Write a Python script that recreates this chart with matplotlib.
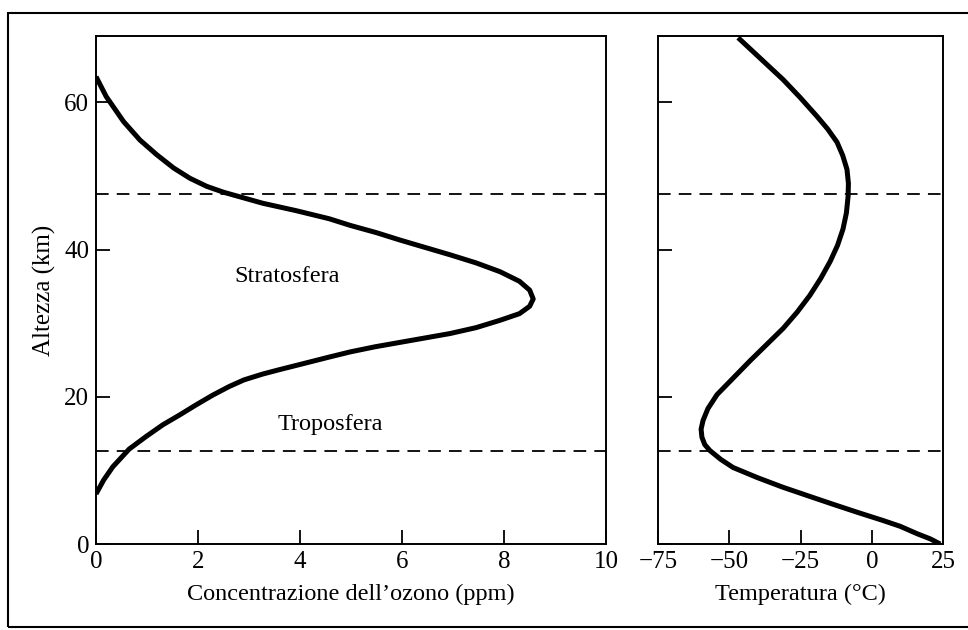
import matplotlib.pyplot as plt
from matplotlib.patches import Rectangle

ozone_ppm = [0.0, 0.2, 0.54, 0.86, 1.19, 1.52, 1.84, 2.17, 2.5, 3.27, 3.92,
             4.57, 4.98, 5.5, 5.96, 6.45, 6.94, 7.45, 7.92, 8.3, 8.5, 8.57, 8.5,
             8.3, 7.92, 7.45, 6.94, 6.45, 5.96, 5.47, 4.98, 4.57, 4.0, 3.6, 3.27,
             2.9, 2.61, 2.28, 1.96, 1.63, 1.31, 0.98, 0.65, 0.33, 0.15, 0.0]
ozone_alt = [63.5, 60.8, 57.4, 54.9, 52.9, 51.1, 49.7, 48.6, 47.8, 46.3, 45.3,
             44.2, 43.3, 42.3, 41.3, 40.3, 39.3, 38.2, 37.0, 35.7, 34.5, 33.3, 32.3,
             31.3, 30.4, 29.4, 28.6, 28.0, 27.4, 26.8, 26.1, 25.4, 24.4, 23.7, 23.1,
             22.3, 21.4, 20.2, 18.9, 17.5, 16.2, 14.6, 12.9, 10.5, 8.7, 6.8]

# temperature profile (deg C vs km)
temp_c = [-46.9, -31.1, -25.2, -19.2, -15.5, -12.2, -10.2, -8.7, -8.2, -8.3, -8.9,
          -10.1, -12.0, -14.6, -17.9, -21.7, -26.2, -31.1, -36.9, -42.7, -48.5,
          -54.3, -57.5, -59.2, -59.9, -59.6, -58.6, -56.8, -53.0, -48.7, -40.0,
          -31.1, -22.0, -13.6, -5.0, 3.9, 10.0, 15.9, 20.5, 24.0]
temp_alt = [68.8, 63.1, 60.7, 58.1, 56.4, 54.6, 52.8, 50.9, 49.0, 47.3, 45.0,
            42.8, 40.6, 38.4, 36.1, 33.8, 31.5, 29.3, 27.1, 24.9, 22.6,
            20.3, 18.4, 16.8, 15.6, 14.5, 13.5, 12.7, 11.5, 10.4, 9.0,
            7.7, 6.5, 5.4, 4.3, 3.2, 2.4, 1.4, 0.7, 0.0]

boundaries = [12.7, 47.5]

plt.rcParams['font.family'] = ['Liberation Serif', 'DejaVu Serif']
plt.rcParams['font.size'] = 17.5

fig = plt.figure(figsize=(9.68, 6.30), dpi=100)
fig.patches.append(Rectangle((0.008, 0.005), 1.2, 0.974, transform=fig.transFigure,
                             fill=False, lw=1.5, ec='black'))

ax1 = fig.add_axes([0.0992, 0.1365, 0.527, 0.806])
ax2 = fig.add_axes([0.6798, 0.1365, 0.2944, 0.806])

for ax in (ax1, ax2):
    ax.set_ylim(0, 69)
    ax.set_yticks([0, 20, 40, 60])
    ax.tick_params(direction='in', length=10, width=1.3, top=False, right=False,
                   labelsize=18, pad=5)
    for s in ax.spines.values():
        s.set_linewidth(1.4)
    for b in boundaries:
        ax.axhline(b, color='black', lw=1.3, ls=(0, (7, 4.5)))

ax1.plot(ozone_ppm, ozone_alt, color='black', lw=3.6,
         solid_joinstyle='round', solid_capstyle='butt')
ax1.set_xlim(0, 10)
ax1.set_xticks([0, 2, 4, 6, 8, 10])
ax1.set_xlabel('Concentrazione dell\u2019ozono (ppm)', fontsize=17.5, labelpad=8)
ax1.set_ylabel('Altezza (km)', fontsize=18, labelpad=6)
ax1.text(3.75, 36.3, 'Stratosfera', ha='center', va='center', fontsize=17.5)
ax1.text(4.6, 16.3, 'Troposfera', ha='center', va='center', fontsize=17.5)

ax2.plot(temp_c, temp_alt, color='black', lw=3.6,
         solid_joinstyle='round', solid_capstyle='butt')
ax2.set_xlim(-75, 25)
ax2.set_xticks([-75, -50, -25, 0, 25])
ax2.set_xticklabels(['\u221275', '\u221250', '\u221225', '0', '25'])
ax2.set_yticklabels([])
ax2.set_xlabel('Temperatura (\u00b0C)', fontsize=17.5, labelpad=8)

fig.savefig('out.png', dpi=100)
